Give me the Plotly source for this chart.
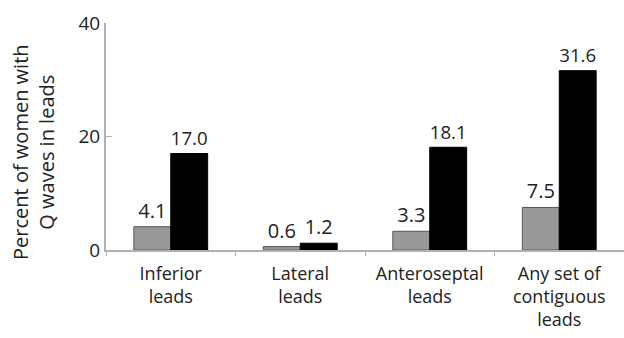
import plotly.graph_objects as go

categories = ["Inferior<br>leads", "Lateral<br>leads", "Anteroseptal<br>leads", "Any set of<br>contiguous<br>leads"]
series_gray = [4.1, 0.6, 3.3, 7.5]
series_black = [17.0, 1.2, 18.1, 31.6]
y_ticks = [0, 20, 40]
y_title = "Percent of women with<br>Q waves in leads"

fam = "Open Sans, Noto Sans, sans-serif"
lab_font = dict(family=fam, size=20, color="#222")
cat_font = dict(family=fam, size=18, color="#222")
tick_font = dict(family=fam, size=19, color="#222")
title_font = dict(family=fam, size=20, color="#222")

fig = go.Figure()
fig.add_trace(go.Bar(
    x=categories, y=series_gray, name="gray",
    marker=dict(color="#999999", line=dict(color="#555555", width=1)),
    text=[f"{v:.1f}" for v in series_gray], textposition="outside",
    textfont=lab_font, cliponaxis=False,
))
fig.add_trace(go.Bar(
    x=categories, y=series_black, name="black",
    marker=dict(color="#000000", line=dict(color="#000000", width=1)),
    text=[f"{v:.1f}" for v in series_black], textposition="outside",
    textfont=lab_font, cliponaxis=False,
))

fig.update_layout(
    width=624, height=338,
    margin=dict(l=106, r=0, t=23, b=88, autoexpand=False),
    barmode="group", bargap=0.43, bargroupgap=0,
    showlegend=False,
    plot_bgcolor="white", paper_bgcolor="white",
    font=lab_font,
    uniformtext=dict(mode=False),
)
fig.update_xaxes(
    automargin=False,
    showline=True, linecolor="#b0b0b0", linewidth=2,
    ticks="outside", tickson="boundaries", ticklen=4, tickcolor="#b0b0b0",
    showgrid=False, tickfont=cat_font, ticklabelstandoff=6,
)
fig.update_yaxes(
    automargin=False,
    range=[0, 40], tickvals=y_ticks,
    showline=True, linecolor="#b0b0b0", linewidth=2,
    ticks="inside", ticklen=6, tickcolor="#b0b0b0",
    showgrid=False, zeroline=False, tickfont=tick_font,
)
fig.add_annotation(
    text=y_title, xref="paper", yref="paper",
    x=-0.139, y=0.432, xanchor="center", yanchor="middle",
    textangle=-90, showarrow=False, font=title_font,
)

fig.write_html(
    "out.html",
    config={"displayModeBar": False},
    post_script="document.body.style.margin='0';document.body.style.overflow='hidden';",
)
